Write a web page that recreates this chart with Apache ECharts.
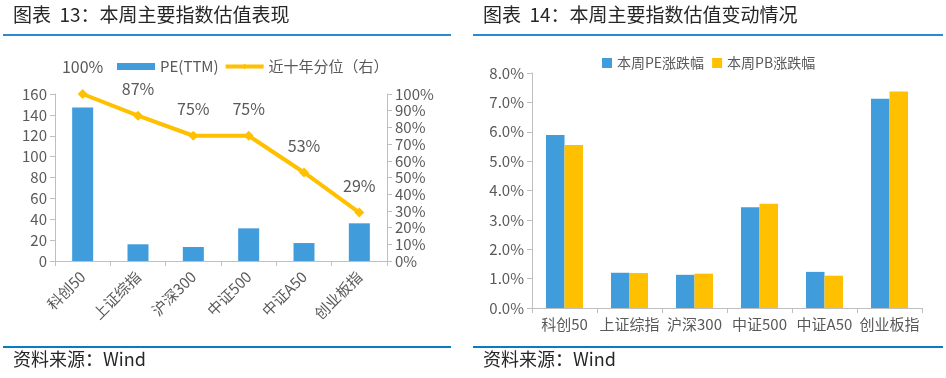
<!DOCTYPE html>
<html>
<head>
<meta charset="utf-8">
<script src="https://cdn.jsdelivr.net/npm/echarts@6/dist/echarts.min.js"></script>
<style>
html,body{margin:0;padding:0;background:#fff;}
#c{width:946px;height:378px;}
</style>
</head>
<body>
<div id="c"></div>
<script>
var categories = ['科创50', '上证综指', '沪深300', '中证500', '中证A50', '创业板指'];
var peTTM = [147, 16, 13.4, 31.3, 17.2, 36.1];
var percentile10y = [100, 87, 75, 75, 53, 29];
var peWeekChange = [5.89, 1.20, 1.13, 3.43, 1.23, 7.12];
var pbWeekChange = [5.55, 1.19, 1.17, 3.55, 1.10, 7.37];
var leftTitle = '图表  13：本周主要指数估值表现';
var rightTitle = '图表  14：本周主要指数估值变动情况';
var sourceText = '资料来源：Wind';

var FONT = '"Noto Sans CJK SC", "Noto Sans", sans-serif';
var BLUE = '#409CDB';
var YELLOW = '#FFC000';
var AXIS = '#BFBFBF';
var LBL = '#595959';

var chart = echarts.init(document.getElementById('c'), null, {renderer: 'canvas'});

function axisBase(extra) {
  var o = {
    axisLine: {show: true, lineStyle: {color: AXIS, width: 1}},
    axisTick: {show: true, length: 5, lineStyle: {color: AXIS}},
    splitLine: {show: false},
    axisLabel: {color: LBL, fontSize: 15, fontFamily: FONT}
  };
  for (var k in extra) o[k] = extra[k];
  return o;
}

var option = {
  backgroundColor: '#fff',
  textStyle: {fontFamily: FONT},
  animation: false,
  graphic: [
    {type: 'text', left: 13, top: 5, style: {text: leftTitle, fontSize: 19, fontFamily: FONT, fill: '#262626'}},
    {type: 'text', left: 483, top: 5, style: {text: rightTitle, fontSize: 19, fontFamily: FONT, fill: '#262626'}},
    {type: 'rect', shape: {x: 3, y: 34, width: 448, height: 2}, style: {fill: '#2C8AD3'}},
    {type: 'rect', shape: {x: 473, y: 34, width: 470, height: 2}, style: {fill: '#2C8AD3'}},
    {type: 'rect', shape: {x: 3, y: 346, width: 448, height: 2}, style: {fill: '#0A7AC5'}},
    {type: 'rect', shape: {x: 473, y: 346, width: 470, height: 2}, style: {fill: '#0A7AC5'}},
    {type: 'text', left: 13, top: 350, style: {text: sourceText, fontSize: 18, fontFamily: FONT, fill: '#262626'}},
    {type: 'text', left: 483, top: 350, style: {text: sourceText, fontSize: 18, fontFamily: FONT, fill: '#262626'}}
  ],
  legend: [
    {
      left: 112, top: 54, itemGap: 5,
      textStyle: {color: LBL, fontSize: 15, fontFamily: FONT},
      data: [
        {name: 'PE(TTM)', icon: 'rect', itemStyle: {color: BLUE}},
        {name: '近十年分位（右）', lineStyle: {width: 4, color: YELLOW}}
      ],
      itemWidth: 38, itemHeight: 7
    },
    {
      left: 597, top: 51, itemGap: 8,
      textStyle: {color: LBL, fontSize: 14, fontFamily: FONT},
      data: [
        {name: '本周PE涨跌幅', icon: 'rect'},
        {name: '本周PB涨跌幅', icon: 'rect'}
      ],
      itemWidth: 10, itemHeight: 10
    }
  ],
  grid: [
    {left: 55, right: 559, top: 94, bottom: 117},
    {left: 532, right: 24, top: 73, bottom: 70}
  ],
  xAxis: [
    axisBase({type: 'category', gridIndex: 0, data: categories,
      axisLabel: {color: LBL, fontSize: 15, fontFamily: FONT, rotate: 45, margin: 13, interval: 0}}),
    axisBase({type: 'category', gridIndex: 1, data: categories,
      axisLabel: {color: LBL, fontSize: 15, fontFamily: FONT, margin: 9, interval: 0}})
  ],
  yAxis: [
    axisBase({type: 'value', gridIndex: 0, min: 0, max: 160, interval: 20, position: 'left'}),
    axisBase({type: 'value', gridIndex: 0, min: 0, max: 100, interval: 10, position: 'right',
      axisLabel: {color: LBL, fontSize: 15, fontFamily: FONT, formatter: '{value}%'}}),
    axisBase({type: 'value', gridIndex: 1, min: 0, max: 8, interval: 1, position: 'left',
      axisLabel: {color: LBL, fontSize: 15, fontFamily: FONT, formatter: function (v) { return v.toFixed(1) + '%'; }}})
  ],
  series: [
    {
      name: 'PE(TTM)', type: 'bar', xAxisIndex: 0, yAxisIndex: 0,
      data: peTTM, barWidth: 21, itemStyle: {color: BLUE}
    },
    {
      name: '近十年分位（右）', type: 'line', xAxisIndex: 0, yAxisIndex: 1,
      data: percentile10y, symbol: 'diamond', symbolSize: 10,
      lineStyle: {color: YELLOW, width: 4}, itemStyle: {color: YELLOW},
      label: {show: true, position: 'top', distance: 14, color: LBL, fontSize: 16, fontFamily: FONT, formatter: '{c}%'}
    },
    {
      name: '本周PE涨跌幅', type: 'bar', xAxisIndex: 1, yAxisIndex: 2,
      data: peWeekChange, barWidth: 18.5, barGap: '0%', itemStyle: {color: BLUE}
    },
    {
      name: '本周PB涨跌幅', type: 'bar', xAxisIndex: 1, yAxisIndex: 2,
      data: pbWeekChange, barWidth: 18.5, barGap: '0%', itemStyle: {color: YELLOW}
    }
  ]
};
chart.setOption(option);
</script>
</body>
</html>
